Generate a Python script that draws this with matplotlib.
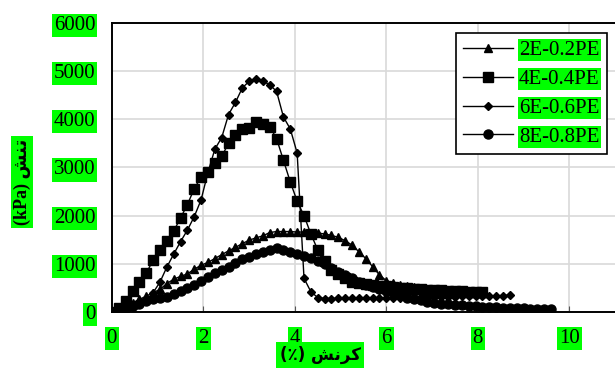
import matplotlib
matplotlib.use("Agg")
import matplotlib.pyplot as plt

# strain (%) shared by all samples
strain = [0.0, 0.15, 0.3, 0.45, 0.6, 0.75, 0.9, 1.05, 1.2, 1.35,
          1.5, 1.65, 1.8, 1.95, 2.1, 2.25, 2.4, 2.55, 2.7, 2.85,
          3.0, 3.15, 3.3, 3.45, 3.6, 3.75, 3.9, 4.05, 4.2, 4.35,
          4.5, 4.65, 4.8, 4.95, 5.1, 5.25, 5.4, 5.55, 5.7, 5.85,
          6.0, 6.15, 6.3, 6.45, 6.6, 6.75, 6.9, 7.05, 7.2, 7.35,
          7.5, 7.65, 7.8, 7.95, 8.1, 8.25, 8.4, 8.55, 8.7, 8.85,
          9.0, 9.15, 9.3, 9.45, 9.6]

stress_2e = [0, 60, 120, 190, 260, 330, 400, 470, 590, 680,
             740, 790, 890, 970, 1030, 1110, 1190, 1270, 1340, 1420,
             1490, 1540, 1580, 1650, 1670, 1670, 1670, 1660, 1660, 1650,
             1640, 1620, 1590, 1550, 1480, 1390, 1250, 1110, 940, 770,
             650, 600, 565, 540, 520, 500, 485, 470, 460, 450,
             440, 430, 420, 410, 400]

stress_4e = [0, 80, 230, 440, 620, 800, 1080, 1280, 1480, 1680,
             1950, 2230, 2560, 2800, 2900, 3100, 3230, 3500, 3670, 3790,
             3820, 3940, 3900, 3850, 3600, 3150, 2700, 2300, 2000, 1620,
             1290, 1050, 880, 780, 700, 630, 600, 580, 560, 540,
             530, 515, 505, 495, 485, 475, 465, 460, 450, 440,
             435, 430, 425, 420, 410]

stress_6e = [0, 30, 60, 100, 170, 250, 400, 620, 930, 1200,
             1460, 1700, 1980, 2330, 2900, 3380, 3620, 4100, 4350, 4650,
             4790, 4840, 4790, 4720, 4580, 4050, 3800, 3300, 700, 420,
             300, 280, 280, 285, 290, 290, 290, 292, 295, 295,
             297, 300, 300, 302, 305, 307, 310, 312, 315, 318,
             320, 322, 325, 328, 330, 333, 337, 342, 350]

stress_8e = [0, 40, 80, 120, 170, 220, 260, 290, 320, 380,
             440, 500, 570, 640, 720, 800, 870, 930, 1020, 1090,
             1150, 1210, 1250, 1290, 1330, 1280, 1240, 1200, 1160, 1120,
             1060, 990, 920, 840, 770, 700, 630, 570, 520, 470,
             430, 390, 350, 300, 270, 240, 210, 190, 175, 160,
             150, 140, 130, 120, 110, 100, 95, 90, 85, 80,
             75, 70, 65, 60, 55]

labels = ["2E-0.2PE", "4E-0.4PE", "6E-0.6PE", "8E-0.8PE"]
x_ticks = [0, 2, 4, 6, 8, 10]
y_ticks = [0, 1000, 2000, 3000, 4000, 5000, 6000]

serif = ["Liberation Serif", "DejaVu Serif"]
green = "#00ff00"

fig = plt.figure(figsize=(6.15, 3.69), dpi=100)
ax = fig.add_axes([0.182, 0.1545, 0.818, 0.7832])

ax.plot(strain[:len(stress_2e)], stress_2e, color="black", lw=1,
        marker="^", ms=6, label=labels[0])
ax.plot(strain[:len(stress_4e)], stress_4e, color="black", lw=1,
        marker="s", ms=6.5, label=labels[1])
ax.plot(strain[:len(stress_6e)], stress_6e, color="black", lw=1,
        marker="D", ms=4.5, label=labels[2])
ax.plot(strain[:len(stress_8e)], stress_8e, color="black", lw=1,
        marker="o", ms=6.5, label=labels[3])

ax.set_xlim(0, 11)
ax.set_ylim(0, 6000)
ax.set_xticks(x_ticks)
ax.set_yticks(y_ticks)
ax.grid(True, color="#d9d9d9", lw=1.2)
ax.set_axisbelow(True)

for side in ["left", "bottom", "top"]:
    ax.spines[side].set_linewidth(1.4)
ax.spines["right"].set_visible(False)

ax.tick_params(axis="x", direction="in", length=4, color="#555555", pad=12)
ax.tick_params(axis="y", length=0, pad=12)
for lab in ax.get_xticklabels() + ax.get_yticklabels():
    lab.set_fontfamily(serif)
    lab.set_fontsize(15)
    lab.set_bbox(dict(facecolor=green, edgecolor="none", pad=1.5))

leg = ax.legend(loc="upper right", bbox_to_anchor=(607 / 615, 1 - 33 / 369),
                bbox_transform=fig.transFigure, borderaxespad=0,
                prop={"family": serif, "size": 15}, fancybox=False,
                edgecolor="black", framealpha=1, handlelength=2.4,
                handletextpad=0.3, labelspacing=0.45, borderpad=0.35)
leg.get_frame().set_linewidth(1.2)
for t in leg.get_texts():
    t.set_bbox(dict(facecolor=green, edgecolor="none", pad=1))

# Persian labels written in visual order with presentation forms
fig.text(320 / 615, 1 - 355 / 369, "(\u066a) \ufeb6\ufee7\ufeae\ufb90",
         ha="center", va="center", fontsize=12, fontweight="bold",
         family=["DejaVu Sans"],
         bbox=dict(facecolor=green, edgecolor="none", pad=2.5))
fig.text(22 / 615, 1 - 182 / 369, "(kPa) \ufeb6\ufee8\ufe97",
         ha="center", va="center", rotation=90, fontsize=13,
         fontweight="bold", family=["Liberation Serif", "DejaVu Sans"],
         bbox=dict(facecolor=green, edgecolor="none", pad=2))

fig.savefig("out.png", dpi=100)
